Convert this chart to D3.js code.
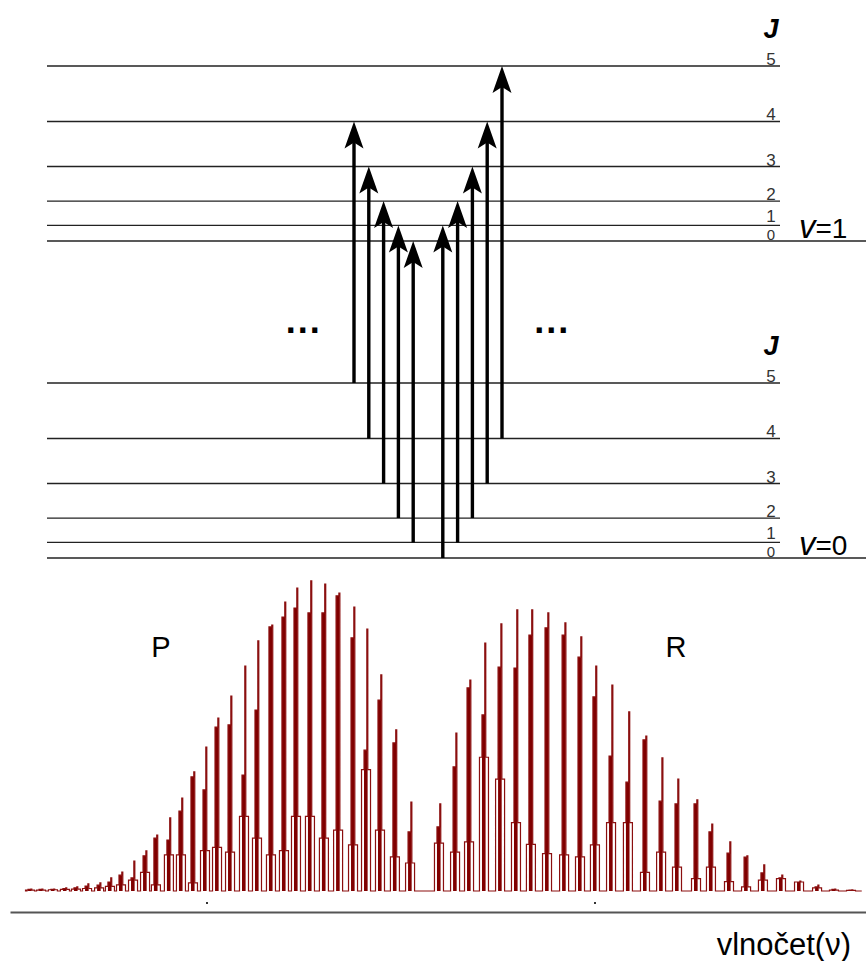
<!DOCTYPE html>
<html>
<head>
<meta charset="utf-8">
<script src="https://cdn.jsdelivr.net/npm/d3@7"></script>
<style>
    body { margin: 0; background: #fff; }
    #chart-area { width: 866px; height: 961px; }
    text { font-family: Arial, "Liberation Sans", sans-serif; }
</style>
</head>
<body>
<div id="chart-area"></div>
<script>
// rotational levels J and their energies (arb. units, v=1 lies 100 above v=0)
const levelJ = [0, 1, 2, 3, 4, 5]
const levelEnergy = [0, 4.9, 12.6, 23.5, 37.7, 55.2]
const vibStates = [0, 1]
const vibOffset = [0, 100]

// transitions drawn as arrows, starting J'' in v=0
const pArrowJ = [5, 4, 3, 2, 1]   // P branch: J -> J-1
const rArrowJ = [0, 1, 2, 3, 4]   // R branch: J -> J+1

// spectrum lines: position (cm-1), peak / shoulder / side-bump intensity (%)
const pPos = [2709.8, 2715.5, 2721.6, 2727.8, 2733.5, 2739.2, 2745.4, 2751.0, 2756.7, 2762.9,
    2769.1, 2774.7, 2781.4, 2787.6, 2793.8, 2800.0, 2806.2, 2812.9, 2820.1, 2826.8,
    2834.0, 2840.7, 2846.9, 2854.1, 2861.3, 2868.6, 2876.3, 2883.0, 2890.2, 2897.9, 2905.7]
const pPeak = [0.6, 0.6, 0.6, 1.0, 1.3, 2.3, 2.6, 4.2, 6.1, 9.6,
    12.9, 18.0, 23.5, 29.9, 38.3, 46.3, 55.6, 62.7, 72.3, 80.4,
    85.5, 92.9, 97.4, 99.7, 98.7, 95.8, 91.3, 84.2, 69.5, 51.8, 28.6]
const pShoulder = [0.5, 0.5, 0.5, 0.8, 1.0, 1.6, 1.9, 2.9, 5.1, 4.2,
    11.3, 17.0, 16.4, 25.7, 36.7, 32.5, 52.7, 53.4, 37.3, 58.2,
    84.9, 88.1, 91.0, 89.4, 89.4, 94.9, 81.4, 45.3, 61.4, 47.6, 19.0]
const pBump = [0.3, 0.3, 0.4, 0.5, 0.6, 0.8, 1.0, 1.5, 2.0, 3.5,
    6.0, 2.0, 11.6, 11.6, 2.6, 13.0, 14.0, 12.5, 24.0, 17.0,
    11.6, 13.0, 24.0, 24.0, 17.0, 19.6, 14.8, 39.0, 19.6, 11.0, 9.0]

const rPos = [2920.6, 2928.9, 2936.1, 2943.8, 2952.1, 2960.3, 2968.0, 2976.3, 2985.1, 2993.3,
    3001.0, 3009.3, 3018.0, 3026.8, 3035.1, 3043.3, 3053.1, 3060.8, 3070.1, 3078.9,
    3087.6, 3096.9, 3106.2, 3115.5, 3124.2, 3133.0]
const rPeak = [28.0, 50.8, 67.8, 79.7, 85.9, 90.4, 90.4, 89.4, 86.2, 81.7,
    72.3, 66.2, 57.6, 49.8, 42.8, 36.0, 29.3, 21.5, 15.8, 11.3,
    8.4, 5.1, 3.2, 1.9, 0.6, 0.4]
const rShoulder = [20.6, 39.9, 65.3, 56.6, 72.0, 71.7, 82.3, 84.6, 82.3, 75.2,
    62.4, 43.4, 35.0, 48.6, 28.9, 28.0, 28.0, 19.0, 12.2, 10.9,
    5.8, 4.2, 2.9, 1.3, 0.5, 0.3]
const rBump = [15.4, 12.5, 15.8, 43.0, 36.0, 22.0, 15.0, 12.0, 11.6, 11.0,
    14.8, 22.0, 22.0, 6.0, 12.5, 7.7, 4.0, 7.7, 3.0, 1.3,
    3.5, 4.0, 2.9, 1.0, 0.3, 0.2]

const specRange = [2707.5, 3137.5]
const axisTicks = [2800, 3000]


class RovibChart {

    constructor(parentElement){
        this.parentElement = parentElement
        this.initVis()
    }

    initVis(){
        let vis = this

        vis.width = 866
        vis.height = 961

        vis.svg = d3.select("#" + vis.parentElement).append("svg")
            .attr("width", vis.width)
            .attr("height", vis.height)

        // energy scale for the level diagram
        vis.yE = d3.scaleLinear().domain([0, 100]).range([558, 241])
        // arrow placement by transition index m (P: -J, R: J+1)
        vis.xArrow = d3.scaleLinear().domain([-5, 5]).range([354, 502])

        // spectrum scales
        vis.xS = d3.scaleLinear().domain([2800, 3000]).range([207, 595])
        vis.yS = d3.scaleLinear().domain([0, 100]).range([891, 580])

        vis.drawLevels()
        vis.drawArrows()
        vis.drawSpectrum()
    }

    drawLevels(){
        let vis = this

        vibStates.forEach((v, vi) => {
            let g = vis.svg.append("g").attr("class", "levels v" + v)

            g.selectAll("line")
                .data(levelJ)
                .enter().append("line")
                .attr("x1", 47)
                .attr("x2", d => d === 0 ? 866 : 780)
                .attr("y1", (d, i) => vis.yE(vibOffset[vi] + levelEnergy[i]))
                .attr("y2", (d, i) => vis.yE(vibOffset[vi] + levelEnergy[i]))
                .attr("stroke", "#222")
                .attr("stroke-width", 1.3)

            g.selectAll("text.jnum")
                .data(levelJ)
                .enter().append("text")
                .attr("class", "jnum")
                .attr("x", 771)
                .attr("y", (d, i) => vis.yE(vibOffset[vi] + levelEnergy[i]) - (d === 1 ? 3 : 1))
                .attr("text-anchor", "middle")
                .attr("font-size", d => d === 0 ? 15 : 17)
                .attr("fill", "#333")
                .text(d => d)

            // J header
            g.append("text")
                .attr("x", 771)
                .attr("y", vis.yE(vibOffset[vi] + levelEnergy[5]) - 28)
                .attr("text-anchor", "middle")
                .attr("font-size", 27)
                .attr("font-style", "italic")
                .attr("font-weight", "bold")
                .text("J")

            // v label
            let t = g.append("text")
                .attr("x", 799)
                .attr("y", vis.yE(vibOffset[vi]) - 3)
                .attr("font-size", 28)
            t.append("tspan").attr("font-style", "italic").attr("font-size", 33).text("v")
            t.append("tspan").text("=" + v)
        })

        // ellipses
        vis.svg.selectAll("text.dots")
            .data([-1, 1])
            .enter().append("text")
            .attr("class", "dots")
            .attr("x", d => vis.xArrow(d * 8.4))
            .attr("y", 333)
            .attr("text-anchor", "middle")
            .attr("font-size", 36)
            .attr("font-weight", "bold")
            .attr("letter-spacing", 2)
            .text("...")
    }

    drawArrows(){
        let vis = this

        let trans = pArrowJ.map(j => ({m: -j, lo: j, up: j - 1}))
            .concat(rArrowJ.map(j => ({m: j + 1, lo: j, up: j + 1})))

        let g = vis.svg.append("g").attr("class", "arrows")

        trans.forEach(d => {
            let x = vis.xArrow(d.m)
            let y0 = vis.yE(levelEnergy[d.lo])
            let y1 = vis.yE(100 + levelEnergy[d.up])

            g.append("line")
                .attr("x1", x).attr("x2", x)
                .attr("y1", y0).attr("y2", y1 + 20)
                .attr("stroke", "#000")
                .attr("stroke-width", 3.4)

            g.append("path")
                .attr("d", `M${x},${y1} L${x + 9.5},${y1 + 27} L${x},${y1 + 21} L${x - 9.5},${y1 + 27} Z`)
                .attr("fill", "#000")
        })
    }

    drawSpectrum(){
        let vis = this

        let lines = pPos.map((p, i) => ({pos: p, h1: pPeak[i], h2: pShoulder[i], b: pBump[i]}))
            .concat(rPos.map((p, i) => ({pos: p, h1: rPeak[i], h2: rShoulder[i], b: rBump[i]})))

        let g = vis.svg.append("g").attr("class", "spectrum")

        // solid body of each line (unresolved doublet)
        g.selectAll("rect.body")
            .data(lines)
            .enter().append("rect")
            .attr("class", "body")
            .attr("x", d => vis.xS(d.pos) - 4)
            .attr("width", 3.6)
            .attr("y", d => vis.yS(d.h2))
            .attr("height", d => vis.yS(0) - vis.yS(d.h2))
            .attr("fill", "#800000")

        // trace: side bumps and sharp peak, drawn as a step line
        let pts = [[vis.xS(specRange[0]), 0]]
        lines.forEach(d => {
            let X = vis.xS(d.pos)
            pts.push([X - 6.5, 0], [X - 6.5, d.b], [X - 4, d.b], [X - 4, d.h2], [X - 1.2, d.h2],
                [X - 1.2, d.h1], [X - 0.2, d.h1], [X - 0.2, d.b], [X + 2.5, d.b], [X + 2.5, 0])
        })
        pts.push([vis.xS(specRange[1]), 0])

        let line = d3.line()
            .x(d => d[0])
            .y(d => vis.yS(d[1]))

        g.append("path")
            .datum(pts)
            .attr("d", line)
            .attr("fill", "none")
            .attr("stroke", "#8b0f0f")
            .attr("stroke-width", 1.2)
            .attr("stroke-linejoin", "miter")

        // axis line
        let xAxisScale = vis.xS.copy()
            .domain([vis.xS.invert(10), vis.xS.invert(866)])
            .range([10, 866])
        vis.xAxis = d3.axisBottom(xAxisScale).tickValues([]).tickSizeOuter(0)

        vis.svg.append("g")
            .attr("class", "axis x-axis")
            .attr("transform", "translate(0,912)")
            .call(vis.xAxis)
            .select(".domain")
            .attr("stroke", "#555")
            .attr("stroke-width", 2)

        vis.svg.selectAll("rect.tick-dot")
            .data(axisTicks)
            .enter().append("rect")
            .attr("class", "tick-dot")
            .attr("x", d => vis.xS(d) - 1)
            .attr("y", 902)
            .attr("width", 2)
            .attr("height", 2)
            .attr("fill", "#333")

        // branch labels
        vis.svg.append("text")
            .attr("x", 161).attr("y", 657)
            .attr("text-anchor", "middle")
            .attr("font-size", 29)
            .text("P")
        vis.svg.append("text")
            .attr("x", 676).attr("y", 657)
            .attr("text-anchor", "middle")
            .attr("font-size", 29)
            .text("R")

        vis.svg.append("text")
            .attr("x", 851).attr("y", 955)
            .attr("text-anchor", "end")
            .attr("font-size", 31)
            .text("vlnočet(ν)")
    }
}

new RovibChart("chart-area")
</script>
</body>
</html>
